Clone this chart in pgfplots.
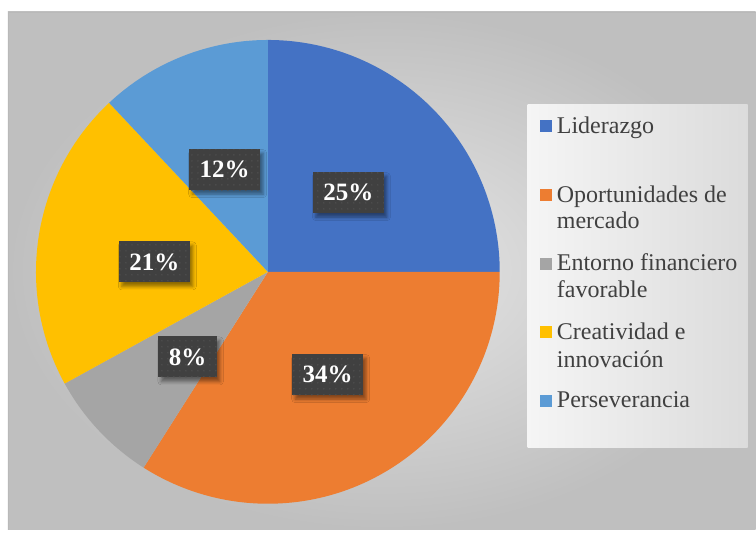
\documentclass[border=0pt]{standalone}
\usepackage{fontspec}
\setmainfont{Liberation Serif}
\usepackage{pgfplots}
\usepackage{pgfplotstable}
\pgfplotsset{compat=1.18}
\usetikzlibrary{patterns.meta,shadows.blur}
\definecolor{c1}{HTML}{4472C4}
\definecolor{c2}{HTML}{ED7D31}
\definecolor{c3}{HTML}{A5A5A5}
\definecolor{c4}{HTML}{FFC000}
\definecolor{c5}{HTML}{5B9BD5}
\definecolor{lblbox}{HTML}{404040}
\definecolor{lbldot}{HTML}{505050}
\definecolor{legtext}{HTML}{404040}
\definecolor{bgin}{HTML}{E6E6E6}
\definecolor{bgout}{HTML}{BFBFBF}

\pgfplotstableread{
value color dist dang
25 c1 113 -0.5
34 c2 119 1.4
8 c3 117 3.5
21 c4 114 4
12 c5 111 1.3
}\piedata

\tikzset{plabel/.style={fill=lblbox, text=white, font=\fontsize{25}{29}\selectfont\bfseries,
  inner xsep=10.5pt, inner ysep=0pt, minimum height=41pt,
  blur shadow={shadow xshift=3pt, shadow yshift=-4pt, shadow blur radius=3.5pt, shadow opacity=45},
  postaction={pattern={Dots[distance=6pt, radius=0.8pt]}, pattern color=lbldot}}}

\begin{document}
\begin{tikzpicture}
\fill[white] (0,0) rectangle (756pt,533pt);
% chart area background
\shade[inner color=bgin, outer color=bgout] (8pt,3pt) rectangle (756pt,521pt);
\draw[gray!55, line width=0.8pt] (8pt,3pt) -- (8pt,521pt) -- (756pt,521pt);
\begin{axis}[
  x=1pt, y=1pt, xmin=0, xmax=756, ymin=0, ymax=533,
  hide axis, clip=false]
\def\cum{0}
\pgfplotsforeachungrouped \i in {0,...,4}{
  \pgfplotstablegetelem{\i}{value}\of\piedata \let\v\pgfplotsretval
  \pgfplotstablegetelem{\i}{color}\of\piedata \let\c\pgfplotsretval
  \pgfmathsetmacro\sa{90-3.6*\cum}
  \pgfmathsetmacro\ea{90-3.6*(\cum+\v)}
  \edef\tmp{\noexpand\fill[\c] (axis cs:268,261) -- ++(\sa:232pt) arc[start angle=\sa, end angle=\ea, radius=232pt] -- cycle;}
  \tmp
  \pgfmathsetmacro\cum{\cum+\v}
}
\def\cum{0}
\pgfplotsforeachungrouped \i in {0,...,4}{
  \pgfplotstablegetelem{\i}{value}\of\piedata \let\v\pgfplotsretval
  \pgfplotstablegetelem{\i}{dist}\of\piedata \let\d\pgfplotsretval
  \pgfplotstablegetelem{\i}{dang}\of\piedata \let\da\pgfplotsretval
  \pgfmathsetmacro\ma{90-3.6*(\cum+\v/2)+\da}
  \edef\tmp{\noexpand\path (axis cs:268,261) ++(\ma:\d pt) node[plabel] {\v\noexpand\%};}
  \tmp
  \pgfmathsetmacro\cum{\cum+\v}
}
% legend
\shade[left color=white!96!black, right color=white!86!black] (axis cs:528,85) rectangle (axis cs:748,428);
\begin{scope}[every node/.style={anchor=base west, inner sep=0pt, text=legtext, font=\fontsize{24}{28}\selectfont}]
\fill[c1] (axis cs:540,401) rectangle (axis cs:552,413);
\node at (axis cs:557,399) {Liderazgo};
\fill[c2] (axis cs:540,332) rectangle (axis cs:552,344);
\node at (axis cs:557,330) {Oportunidades de};
\node at (axis cs:557,304) {mercado};
\fill[c3] (axis cs:540,263) rectangle (axis cs:552,275);
\node at (axis cs:557,262) {Entorno financiero};
\node at (axis cs:557,235) {favorable};
\fill[c4] (axis cs:540,195) rectangle (axis cs:552,207);
\node at (axis cs:557,193) {Creatividad e};
\node at (axis cs:557,165) {innovación};
\fill[c5] (axis cs:540,126) rectangle (axis cs:552,138);
\node at (axis cs:557,125) {Perseverancia};
\end{scope}
\end{axis}
\end{tikzpicture}
\end{document}
